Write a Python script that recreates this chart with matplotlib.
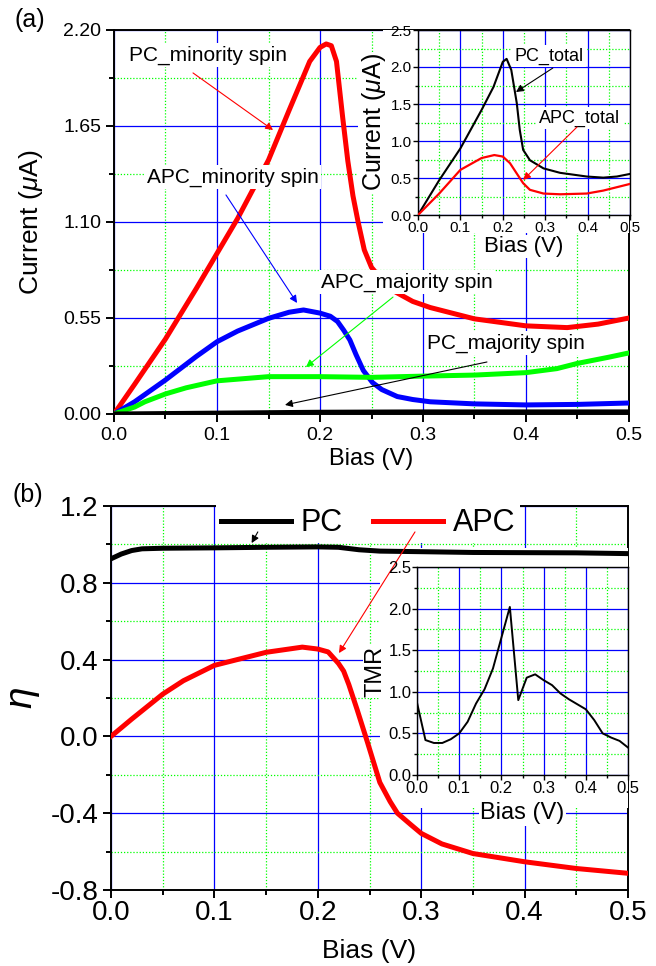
import matplotlib
matplotlib.use('Agg')
import matplotlib.pyplot as plt
from matplotlib.ticker import MultipleLocator, FormatStrFormatter
from matplotlib.patches import Rectangle

plt.rcParams['font.family'] = ['Liberation Sans', 'DejaVu Sans']
plt.rcParams['mathtext.fontset'] = 'custom'
plt.rcParams['mathtext.rm'] = 'Liberation Sans'
plt.rcParams['mathtext.it'] = 'Liberation Sans:italic'

# ---------------- data: panel (a) main ----------------
pc_min_x = [0, 0.02, 0.05, 0.08, 0.10, 0.12, 0.15, 0.17, 0.19, 0.20, 0.206, 0.211, 0.216,
            0.222, 0.227, 0.232, 0.237, 0.243, 0.25, 0.26, 0.273, 0.29, 0.307, 0.35, 0.40,
            0.44, 0.47, 0.50]
pc_min_y = [0, 0.17, 0.43, 0.72, 0.92, 1.12, 1.455, 1.74, 2.02, 2.10, 2.12, 2.11, 2.02,
            1.70, 1.45, 1.25, 1.10, 0.94, 0.84, 0.77, 0.70, 0.645, 0.61, 0.545, 0.505,
            0.495, 0.515, 0.55]

apc_min_x = [0, 0.02, 0.05, 0.08, 0.10, 0.12, 0.15, 0.17, 0.184, 0.20, 0.21, 0.217, 0.223,
             0.229, 0.235, 0.242, 0.251, 0.26, 0.275, 0.29, 0.307, 0.35, 0.40, 0.45, 0.50]
apc_min_y = [0, 0.07, 0.195, 0.33, 0.414, 0.475, 0.548, 0.583, 0.596, 0.578, 0.56, 0.53,
             0.48, 0.424, 0.34, 0.25, 0.18, 0.14, 0.10, 0.083, 0.07, 0.058, 0.052, 0.055,
             0.063]

apc_maj_x = [0, 0.02, 0.03, 0.05, 0.07, 0.10, 0.15, 0.20, 0.25, 0.30, 0.35, 0.40, 0.43,
             0.45, 0.48, 0.50]
apc_maj_y = [0, 0.04, 0.07, 0.115, 0.15, 0.19, 0.214, 0.214, 0.21, 0.217, 0.223, 0.237,
             0.26, 0.29, 0.325, 0.35]

pc_maj_x = [0, 0.1, 0.2, 0.3, 0.4, 0.5]
pc_maj_y = [0, 0.005, 0.01, 0.012, 0.012, 0.012]

# ---------------- data: panel (a) inset ----------------
pc_tot_x = [0, 0.05, 0.10, 0.15, 0.178, 0.20, 0.209, 0.22, 0.233, 0.24, 0.248, 0.264,
            0.296, 0.335, 0.398, 0.437, 0.469, 0.50]
pc_tot_y = [0, 0.47, 0.90, 1.42, 1.73, 2.07, 2.11, 1.96, 1.51, 1.15, 0.88, 0.74, 0.63,
            0.57, 0.52, 0.505, 0.52, 0.555]

apc_tot_x = [0, 0.05, 0.10, 0.15, 0.18, 0.20, 0.217, 0.233, 0.248, 0.264, 0.296, 0.335,
             0.398, 0.437, 0.50]
apc_tot_y = [0, 0.29, 0.61, 0.77, 0.81, 0.79, 0.70, 0.56, 0.43, 0.34, 0.29, 0.28, 0.29,
             0.33, 0.42]

# ---------------- data: panel (b) main ----------------
eta_pc_x = [0, 0.01, 0.02, 0.03, 0.05, 0.10, 0.15, 0.20, 0.22, 0.24, 0.26, 0.30, 0.35,
            0.40, 0.45, 0.50]
eta_pc_y = [0.925, 0.95, 0.968, 0.977, 0.98, 0.982, 0.985, 0.987, 0.985, 0.972, 0.965,
            0.962, 0.958, 0.957, 0.956, 0.952]

eta_apc_x = [0, 0.02, 0.05, 0.07, 0.10, 0.15, 0.185, 0.20, 0.21, 0.22, 0.225, 0.23, 0.238,
             0.248, 0.26, 0.27, 0.277, 0.29, 0.30, 0.32, 0.35, 0.40, 0.45, 0.50]
eta_apc_y = [0, 0.09, 0.22, 0.29, 0.37, 0.438, 0.465, 0.455, 0.44, 0.38, 0.34, 0.27, 0.14,
             -0.03, -0.24, -0.34, -0.40, -0.46, -0.505, -0.56, -0.61, -0.653, -0.688,
             -0.713]

# ---------------- data: panel (b) inset ----------------
tmr_x = [0, 0.02, 0.04, 0.06, 0.08, 0.10, 0.12, 0.14, 0.16, 0.18, 0.20, 0.22, 0.24, 0.26,
         0.28, 0.30, 0.32, 0.34, 0.36, 0.38, 0.40, 0.42, 0.44, 0.46, 0.48, 0.50]
tmr_y = [0.87, 0.42, 0.385, 0.385, 0.43, 0.50, 0.64, 0.86, 1.03, 1.28, 1.65, 2.02, 0.90,
         1.17, 1.21, 1.14, 1.08, 0.98, 0.91, 0.85, 0.79, 0.66, 0.50, 0.45, 0.41, 0.33]

RED, BLUE, GREEN, BLACK = '#FF0000', '#0000FF', '#00FF00', '#000000'

W, H = 656, 966
fig = plt.figure(figsize=(W / 100, H / 100), dpi=100)


def frect(l, t, r, b):
    return [l / W, 1 - b / H, (r - l) / W, (b - t) / H]


def style(ax, xmaj, xmin, ymaj, ymin, tlen, tsize, tpadx, tpady, sw):
    ax.xaxis.set_major_locator(MultipleLocator(xmaj))
    ax.xaxis.set_minor_locator(MultipleLocator(xmin))
    ax.yaxis.set_major_locator(MultipleLocator(ymaj))
    ax.yaxis.set_minor_locator(MultipleLocator(ymin))
    ax.set_axisbelow(True)
    ax.grid(which='major', color=BLUE, lw=0.9, ls='-')
    ax.grid(which='minor', color=GREEN, lw=0.9, ls=(0, (1, 1.5)))
    ax.tick_params(which='both', direction='out', top=False, right=False, width=sw,
                   labelsize=tsize)
    ax.tick_params(which='major', length=tlen)
    ax.tick_params(which='minor', length=tlen * 0.6)
    ax.tick_params(axis='x', pad=tpadx)
    ax.tick_params(axis='y', pad=tpady)
    for s in ax.spines.values():
        s.set_linewidth(sw)


def white_box(ax, l, t, r, b):
    rect = Rectangle((l / W, 1 - b / H), (r - l) / W, (b - t) / H, transform=fig.transFigure,
                     facecolor='white', edgecolor='none', zorder=2.6)
    ax.add_patch(rect)


def arrow(ax, start, end, color):
    ax.annotate('', xy=end, xytext=start, zorder=6,
                arrowprops=dict(arrowstyle='-|>', color=color, lw=0.8, mutation_scale=11,
                                shrinkA=0, shrinkB=0))


def label(ax, x, y, s, size):
    ax.text(x, y, s, ha='center', va='center', fontsize=size, zorder=5,
            bbox=dict(facecolor='white', edgecolor='none', pad=1.5))


# ================= panel (a) =================
axa = fig.add_axes(frect(114, 30, 629, 414))
white_box(axa, 383, 30, 629, 233)
axa.plot(pc_min_x, pc_min_y, color=RED, lw=3.6, zorder=3)
axa.plot(apc_min_x, apc_min_y, color=BLUE, lw=3.6, zorder=3)
axa.plot(apc_maj_x, apc_maj_y, color=GREEN, lw=3.6, zorder=3)
axa.plot(pc_maj_x, pc_maj_y, color=BLACK, lw=3.6, zorder=3)
axa.set_xlim(0, 0.5)
axa.set_ylim(0, 2.2)
style(axa, 0.1, 0.05, 0.55, 0.275, 5.5, 14, 4, 3.5, 1.4)
axa.xaxis.set_major_formatter(FormatStrFormatter('%.1f'))
axa.yaxis.set_major_formatter(FormatStrFormatter('%.2f'))
axa.set_xlabel('Bias (V)', fontsize=17, labelpad=3)
axa.set_ylabel(r'Current ($\mu$A)', fontsize=19, labelpad=13)

label(axa, 0.0913, 2.057, 'PC_minority spin', 15)
arrow(axa, (0.0767, 1.954), (0.1544, 1.627), RED)
label(axa, 0.1155, 1.358, 'APC_minority spin', 15)
arrow(axa, (0.1087, 1.255), (0.1777, 0.636), BLUE)
label(axa, 0.2845, 0.756, 'APC_majority spin', 15)
arrow(axa, (0.2709, 0.670), (0.1864, 0.269), GREEN)
label(axa, 0.3806, 0.407, 'PC_majority spin', 15)
arrow(axa, (0.3621, 0.298), (0.166, 0.052), BLACK)

# inset (a)
ina = fig.add_axes(frect(418, 30, 630, 215))
ina.set_facecolor('white')
ina.plot(pc_tot_x, pc_tot_y, color=BLACK, lw=1.5, zorder=3)
ina.plot(apc_tot_x, apc_tot_y, color=RED, lw=1.6, zorder=3)
ina.set_xlim(0, 0.5)
ina.set_ylim(0, 2.5)
style(ina, 0.1, 0.05, 0.5, 0.25, 3.5, 11, 0.5, 1, 1.0)
ina.xaxis.set_major_formatter(FormatStrFormatter('%.1f'))
ina.yaxis.set_major_formatter(FormatStrFormatter('%.1f'))
ina.set_xlabel('Bias (V)', fontsize=16, labelpad=1,
               bbox=dict(facecolor='white', edgecolor='none', pad=1))
ina.set_ylabel(r'Current ($\mu$A)', fontsize=18, labelpad=2,
               bbox=dict(facecolor='white', edgecolor='none', pad=1))
label(ina, 0.309, 2.149, 'PC_total', 13)
arrow(ina, (0.318, 1.986), (0.231, 1.662), BLACK)
label(ina, 0.382, 1.311, 'APC_total', 13)
arrow(ina, (0.375, 1.189), (0.248, 0.473), RED)

# ================= panel (b) =================
axb = fig.add_axes(frect(111, 506, 628, 890))
white_box(axb, 380, 548, 629, 808)
l_pc, = axb.plot(eta_pc_x, eta_pc_y, color=BLACK, lw=3.6, zorder=3, label='PC')
l_apc, = axb.plot(eta_apc_x, eta_apc_y, color=RED, lw=3.6, zorder=3, label='APC')
axb.set_xlim(0, 0.5)
axb.set_ylim(-0.8, 1.2)
style(axb, 0.1, 0.05, 0.4, 0.2, 5.5, 20, 2, 3.5, 1.4)
axb.xaxis.set_major_formatter(FormatStrFormatter('%.1f'))
axb.yaxis.set_major_formatter(FormatStrFormatter('%.1f'))
axb.set_xlabel('Bias (V)', fontsize=19, labelpad=9)
axb.set_ylabel(r'$\eta$', fontsize=28, labelpad=6)
leg = axb.legend(handles=[l_pc, l_apc], loc='center', bbox_to_anchor=(0.497, 0.955), ncol=2,
                 fontsize=22, frameon=True, handlelength=2.3, handletextpad=0.3,
                 columnspacing=1.0, borderpad=0.15, borderaxespad=0, fancybox=False)
leg.get_frame().set_edgecolor('none')
leg.get_frame().set_facecolor('white')
leg.get_frame().set_alpha(1)
leg.set_zorder(2.8)
arrow(axb, (0.142, 1.065), (0.136, 1.007), BLACK)
arrow(axb, (0.294, 1.065), (0.2205, 0.434), RED)

# inset (b)
inb = fig.add_axes(frect(417, 567, 628, 775))
inb.set_facecolor('white')
inb.plot(tmr_x, tmr_y, color=BLACK, lw=1.4, zorder=3)
inb.set_xlim(0, 0.5)
inb.set_ylim(0, 2.5)
style(inb, 0.1, 0.05, 0.5, 0.25, 3.5, 12, 0.5, 0.5, 1.0)
inb.xaxis.set_major_formatter(FormatStrFormatter('%.1f'))
inb.yaxis.set_major_formatter(FormatStrFormatter('%.1f'))
inb.set_xlabel('Bias (V)', fontsize=17, labelpad=5,
               bbox=dict(facecolor='white', edgecolor='none', pad=1))
inb.set_ylabel('TMR', fontsize=17, labelpad=1.5,
               bbox=dict(facecolor='white', edgecolor='none', pad=1))

fig.text(15 / W, 1 - 20 / H, '(a)', fontsize=18, va='center', ha='left')
fig.text(13 / W, 1 - 495 / H, '(b)', fontsize=18, va='center', ha='left')

fig.savefig('out.png', dpi=100)
